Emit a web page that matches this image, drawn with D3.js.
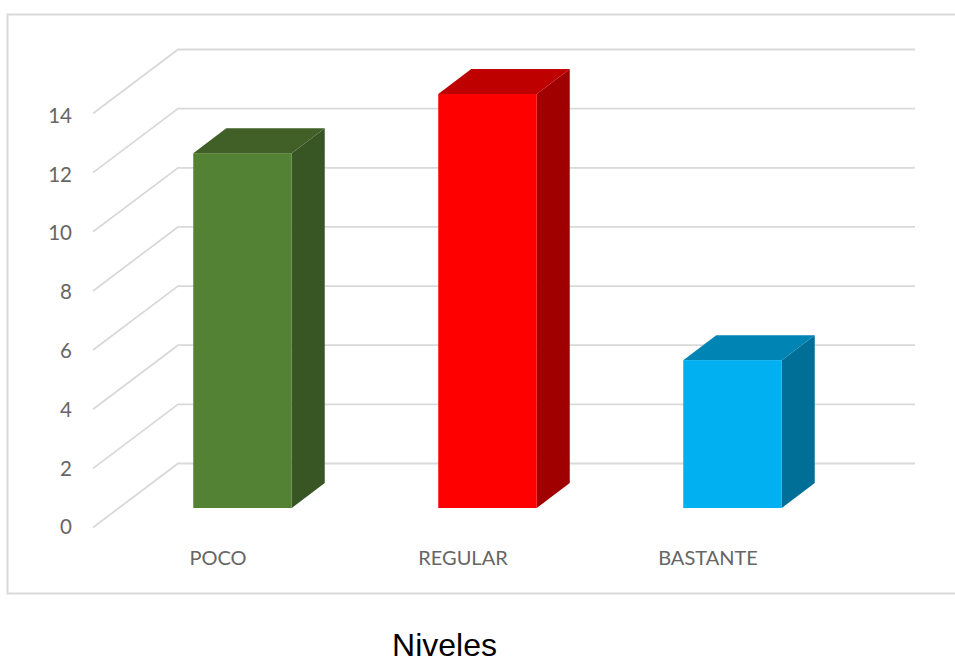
<!DOCTYPE html>
<html>
<head>
<meta charset="utf-8">
<script src="https://cdn.jsdelivr.net/npm/d3@7"></script>
<style>
html,body{margin:0;padding:0;background:#fff;overflow:hidden}
svg{display:block}
</style>
</head>
<body>
<svg id="chart" width="955" height="657"></svg>
<script>
const categories = ["POCO", "REGULAR", "BASTANTE"];
const values = [12, 14, 5];
const yTicks = [0, 2, 4, 6, 8, 10, 12, 14];
const frontColors = ["#548235", "#ff0000", "#00b0f0"];
const topColors = ["#406028", "#bf0000", "#0084b4"];
const sideColors = ["#375623", "#a00000", "#006f97"];
const axisTitle = "Niveles";

const svg = d3.select("#chart");
const labelFont = "Lato, 'Open Sans', sans-serif";

// 3D offsets of the chart box
const wallDx = 85, wallDy = -64;
const barDx = 33, barDy = -25;

// value scale on the front-left edge of the box
const y = d3.scaleLinear().domain([0, 14]).range([527.5, 113.5]);
// tick labels sit on a slightly tighter run than the gridlines
const yLabel = d3.scaleLinear().domain([0, 14]).range([526.5, 115]);
const barBase = 508;
const barHeight = d => y(0) - y(d);

// bands: one step per category
const x = d3.scaleBand().domain(categories).range([120, 855]).paddingInner(0).paddingOuter(0);
const barWidth = 98.5;
const barLeft = c => x(c) + x.bandwidth() / 2 - barWidth / 2;

// frame (open on the right, it runs off the page)
svg.append("path")
  .attr("d", "M960,14.5H7.5V593.5H960")
  .attr("fill", "none").attr("stroke", "#d9d9d9").attr("stroke-width", 2);

// gridlines: floor/side wall diagonal plus back wall horizontal
svg.append("g").selectAll("path").data(yTicks).join("path")
  .attr("d", t => `M93,${y(t)}L${93 + wallDx},${y(t) + wallDy}H915`)
  .attr("fill", "none").attr("stroke", "#d9d9d9").attr("stroke-width", 1.8);

// value axis labels
const yAxis = d3.axisLeft(yLabel).tickValues(yTicks).tickSize(0).tickPadding(0);
const yG = svg.append("g").attr("transform", "translate(72,0)").call(yAxis);
yG.select(".domain").remove();
yG.selectAll("text")
  .attr("font-family", labelFont).attr("font-size", 20.5).attr("fill", "#666666")
  .attr("dy", "0.36em");

// bars
const bars = svg.append("g").selectAll("g").data(categories).join("g");
bars.append("path")
  .attr("fill", (c, i) => sideColors[i])
  .attr("d", (c, i) => {
    const l = barLeft(c) + barWidth, t = barBase - barHeight(values[i]);
    return `M${l},${t}l${barDx},${barDy}V${barBase + barDy}L${l},${barBase}Z`;
  });
bars.append("path")
  .attr("fill", (c, i) => topColors[i])
  .attr("d", (c, i) => {
    const l = barLeft(c), t = barBase - barHeight(values[i]);
    return `M${l},${t}l${barDx},${barDy}h${barWidth}l${-barDx},${-barDy}Z`;
  });
bars.append("rect")
  .attr("fill", (c, i) => frontColors[i])
  .attr("x", c => barLeft(c))
  .attr("y", (c, i) => barBase - barHeight(values[i]))
  .attr("width", barWidth)
  .attr("height", (c, i) => barHeight(values[i]));

// category labels
svg.append("g").selectAll("text").data(categories).join("text")
  .attr("x", c => x(c) + x.bandwidth() / 2 - 24.5)
  .attr("y", 565)
  .attr("text-anchor", "middle")
  .attr("font-family", labelFont).attr("font-size", 20).attr("fill", "#666666")
  .text(c => c);

// axis title
svg.append("text")
  .attr("x", 444.5).attr("y", 656)
  .attr("text-anchor", "middle")
  .attr("font-family", "'Liberation Sans', Arial, sans-serif")
  .attr("font-size", 32).attr("fill", "#000")
  .text(axisTitle);
</script>
</body>
</html>
